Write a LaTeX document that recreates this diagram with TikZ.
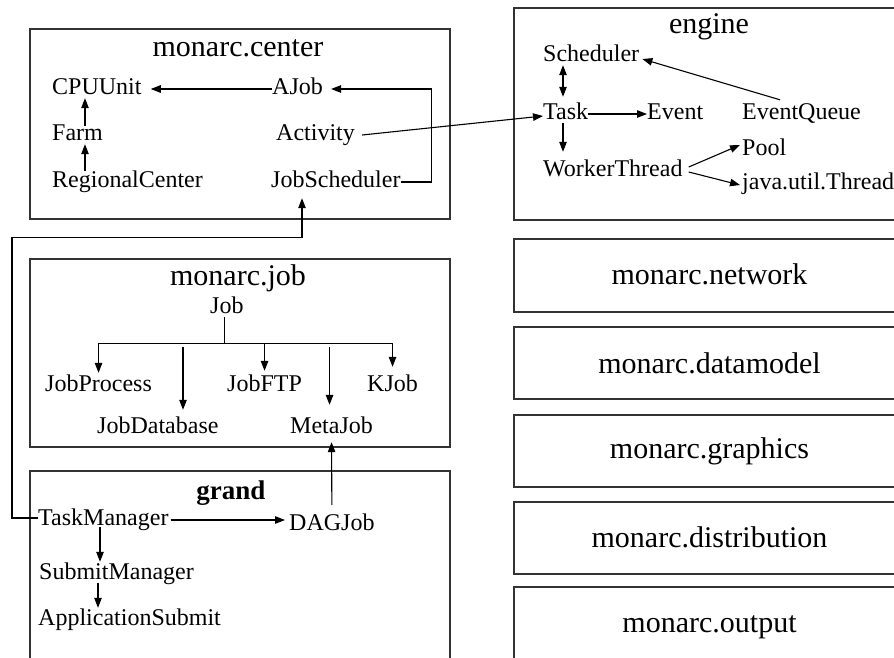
\documentclass[tikz,border=0pt]{standalone}
\usepackage{fontspec}
\setmainfont{Liberation Serif}
\usetikzlibrary{arrows.meta,calc}
\newcommand\lblfont{\fontsize{24}{28}\selectfont}
\newcommand\ttlfont{\fontsize{30}{34}\selectfont}
\newcommand\grandfont{\fontsize{27}{31}\selectfont\bfseries}
\definecolor{boxline}{HTML}{333333}
\tikzset{
  pkg/.style={draw=boxline, line width=1.4pt},
  lbl/.style={font=\lblfont, inner sep=0pt, text height=14pt, text depth=4pt, anchor=base west},
  ttl/.style={font=\ttlfont, inner sep=0pt, anchor=base},
  tip/.tip={Triangle[length=10pt,width=7.5pt]},
  arr/.style={-tip, line width=1.1pt},
  link/.style={line width=1.1pt}
}
\begin{document}
\begin{tikzpicture}[x=1pt,y=-1pt]
\useasboundingbox (0,0) rectangle (894,657);
\clip (0,0) rectangle (894,657);

% package frames
\draw[pkg] (30,29) rectangle (450,219);
\draw[pkg] (30,259) rectangle (450,447);
\draw[pkg] (30,471) rectangle (450,680);
\draw[pkg] (514,8) rectangle (905,220);
\draw[pkg] (514,239) rectangle (905,312);
\draw[pkg] (514,327) rectangle (905,399);
\draw[pkg] (514,415) rectangle (905,487);
\draw[pkg] (514,502) rectangle (905,574);
\draw[pkg] (514,587) rectangle (905,680);

% package titles
\node[ttl] (tcenter) at (238,56) {monarc.center};
\node[ttl] (tjob) at (238,285) {monarc.job};
\node[ttl, font=\grandfont] (tgrand) at (231,499) {grand};
\node[ttl] (tengine) at (709,33) {engine};
\node[ttl] (tnetwork) at (709.5,284) {monarc.network};
\node[ttl] (tdatamodel) at (709.5,373) {monarc.datamodel};
\node[ttl] (tgraphics) at (709.5,458) {monarc.graphics};
\node[ttl] (tdistribution) at (709.5,547) {monarc.distribution};
\node[ttl] (toutput) at (709.5,632) {monarc.output};

% monarc.center classes
\node[lbl] (cpu) at (52,94) {CPUUnit};
\node[lbl] (ajob) at (272,94) {AJob};
\node[lbl] (farm) at (52,140) {Farm};
\node[lbl] (activity) at (276,140) {Activity};
\node[lbl] (regional) at (52,187) {RegionalCenter};
\node[lbl] (jobsched) at (271,187) {JobScheduler};

% engine classes
\node[lbl] (scheduler) at (543,61) {Scheduler};
\node[lbl] (task) at (543,119) {Task};
\node[lbl] (event) at (647,119) {Event};
\node[lbl] (equeue) at (742,119) {EventQueue};
\node[lbl] (pool) at (742,155) {Pool};
\node[lbl] (worker) at (543,176) {WorkerThread};
\node[lbl] (jthread) at (742,189) {java.util.Thread};

% monarc.job classes
\node[lbl] (job) at (210,313) {Job};
\node[lbl] (jprocess) at (45,391) {JobProcess};
\node[lbl] (jftp) at (227,391) {JobFTP};
\node[lbl] (kjob) at (367,391) {KJob};
\node[lbl] (jdb) at (97,433) {JobDatabase};
\node[lbl] (meta) at (290,433) {MetaJob};

% grand classes
\node[lbl] (taskmgr) at (38,525) {TaskManager};
\node[lbl] (dag) at (289,530) {DAGJob};
\node[lbl] (submgr) at (39,579) {SubmitManager};
\node[lbl] (appsub) at (38,625) {ApplicationSubmit};

% monarc.center relations
\draw[arr] (ajob.west) -- ($(cpu.east)+(9,0)$);
\draw[arr] (jobsched.east) -- ++(31,0) |- ($(ajob.east)+(8,0)$);
\draw[arr] ($(farm.north west)+(33,0)$) -- ($(cpu.south west)+(33,0)$);
\draw[arr] ($(regional.north west)+(33,-2)$) -- ($(farm.south west)+(33,0)$);

% cross-package links
\draw[arr] ($(activity.east)+(7,0)$) -- ($(task.west)+(0,2)$);
\draw[arr] ($(taskmgr.west)+(0,-2)$) -- ++(-26,0) |- ($(jobsched.south west)+(31,46)$) -- ($(jobsched.south west)+(31,7)$);
\draw[arr] ($(dag.north)+(0,-11)$) -- ($(meta.south)+(0,5)$);

% engine relations
\draw[tip-tip, line width=1.1pt]
  ($(scheduler.south west)+(20,0)$) -- ($(task.north west)+(20,-8)$);
\draw[arr] (task.east) -- (event.west);
\draw[arr] ($(equeue.north west)+(38,-5)$) -- ($(scheduler.east)+(3,3)$);
\draw[arr] ($(task.south west)+(20,0)$) -- ($(worker.north west)+(20,-10)$);
\draw[arr] ($(worker.east)+(6,-4)$) -- ($(pool.west)+(-2,-5)$);
\draw[arr] ($(worker.east)+(6,1)$) -- ($(jthread.west)+(-2,1)$);

% monarc.job hierarchy
\coordinate (hub) at ($(job.south)+(-2,26)$);
\draw[link] ($(job.south)+(-2,0)$) -- (hub);
\draw[link] (hub -| jprocess.north) -- (hub -| kjob.north);
\draw[arr] (hub -| jprocess.north) -- ($(jprocess.north)+(0,-4)$);
\draw[arr] (hub -| jftp.north) -- ($(jftp.north)+(0,-6)$);
\draw[arr] (hub -| kjob.north) -- ($(kjob.north)+(0,-10)$);
\draw[arr] ($(hub -| jdb.north west)+(86,4)$) -- ($(jdb.north west)+(86,-9)$);
\draw[arr] ($(hub -| meta.north)+(-2,4)$) -- ($(meta.north)+(-2,-14)$);

% grand relations
\draw[arr] ($(taskmgr.east)+(2,0)$) -- ($(taskmgr.east -| dag.west)+(-4,0)$);
\draw[arr] ($(taskmgr.south west)+(62,-2)$) -- ($(submgr.north west)+(61,-3)$);
\draw[arr] ($(submgr.south west)+(59,0)$) -- ($(appsub.north west)+(60,-3)$);
\end{tikzpicture}
\end{document}
